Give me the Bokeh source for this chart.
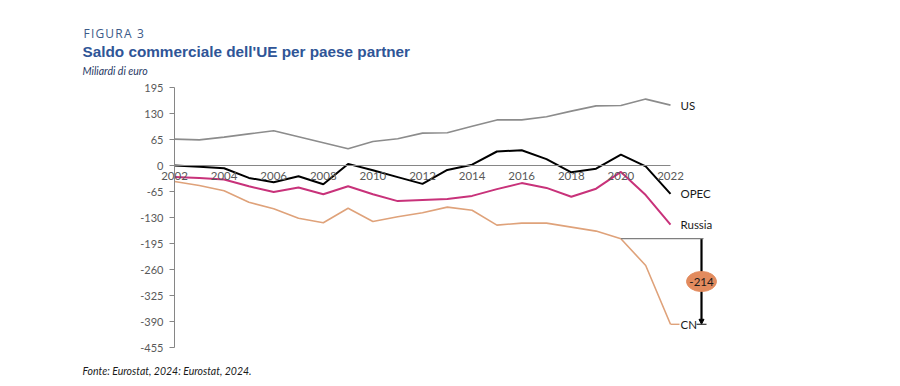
from bokeh.plotting import figure
from bokeh.models import Range1d, LinearAxis, FixedTicker, Arrow, NormalHead
from bokeh.core.properties import value
from bokeh.embed import file_html
from bokeh.resources import INLINE

# ---------------- data ----------------
years = list(range(2002, 2023))
us = [66, 64, 71, 79, 87, 72, 57, 42, 60, 67, 81, 82, 98, 114, 114, 122, 136, 149, 150, 166, 151]
opec = [0, -3, -7, -31, -42, -27, -47, 4, -12, -29, -46, -11, 2, 35, 38, 16, -17, -8, 27, -2, -71]
russia = [-29, -31, -35, -52, -66, -55, -72, -52, -72, -89, -86, -84, -76, -59, -44, -56, -78, -58, -16, -74, -148]
cn = [-40, -50, -63, -92, -108, -132, -143, -107, -140, -128, -118, -104, -112, -149, -144, -144, -154, -164, -183, -250, -397]
series_names = ["US", "OPEC", "Russia", "CN"]
y_ticks = [195, 130, 65, 0, -65, -130, -195, -260, -325, -390, -455]
x_ticks = [2002, 2004, 2006, 2008, 2010, 2012, 2014, 2016, 2018, 2020, 2022]

title_kicker = "F\u200aI\u200aG\u200aU\u200aR\u200aA\u200a \u200a3"
title_main = "Saldo commerciale dell'UE per paese partner"
title_sub = "Miliardi di euro"
footer = "Fonte: Eurostat, 2024: Eurostat, 2024."

# ---------------- layout ----------------
W, H = 884, 378
FX0, FY0 = 174, 87          # canvas px where (2002, 195) sits
PXY = 24.8                  # px per year
PXV = 0.4                   # px per unit
x0, y_top = years[0], y_ticks[0]

x_start = x0 - FX0 / PXY
x_end = x0 + (W - FX0) / PXY
y_end = y_top + FY0 / PXV
y_start = y_top - (H - FY0) / PXV


def dx(px):
    return x0 + (px - FX0) / PXY


def dy(py):
    return y_top - (py - FY0) / PXV


p = figure(width=W, height=H, x_range=Range1d(x_start, x_end),
           y_range=Range1d(y_start, y_end), output_backend="svg",
           toolbar_location=None, min_border=0, x_axis_type=None,
           y_axis_type=None, outline_line_color=None,
           background_fill_color="white", border_fill_color="white")

# axes
yaxis = LinearAxis(fixed_location=years[0], bounds=(y_ticks[-1], y_ticks[0]),
                   ticker=FixedTicker(ticks=y_ticks))
yaxis.axis_line_color = "#868686"
yaxis.major_tick_line_color = "#868686"
yaxis.major_tick_out = 5
yaxis.major_tick_in = 0
yaxis.minor_tick_line_color = None
yaxis.major_label_standoff = 6
yaxis.major_label_text_font = "Lato"
yaxis.major_label_text_font_size = "11px"
yaxis.major_label_text_color = "#595959"
yaxis.major_label_overrides = {t: str(t) for t in y_ticks}
p.add_layout(yaxis, "left")

xaxis = LinearAxis(fixed_location=0, bounds=(years[0], years[-1]),
                   ticker=FixedTicker(ticks=x_ticks))
xaxis.axis_line_color = "#868686"
xaxis.major_tick_line_color = None
xaxis.major_tick_out = 0
xaxis.major_tick_in = 0
xaxis.minor_tick_line_color = None
xaxis.major_label_standoff = 6
xaxis.major_label_text_font = "Lato"
xaxis.major_label_text_font_size = "11.5px"
xaxis.major_label_text_color = "#595959"
p.add_layout(xaxis, "below")

# lines
colors = ["#8C8C8C", "#000000", "#C8327A", "#DFA27A"]
widths = [1.6, 2.0, 2.0, 1.6]
for vals, c, w in zip([us, opec, russia, cn], colors, widths):
    p.line(years, vals, line_color=c, line_width=w)

# series labels
lab_dx = 10 / PXY
last_vals = [us[-1], opec[-1], russia[-1], cn[-1]]
p.text(x=[years[-1] + lab_dx] * 4, y=last_vals, text=series_names,
       text_font=value("Lato"), text_font_size="11.5px",
       text_baseline="middle", text_align="left", text_color="#1a1a1a")
# CN leader line
p.line([years[-1], years[-1] + 9 / PXY], [cn[-1], cn[-1]], line_color=colors[3], line_width=1.4)

# annotation: change 2020 -> 2022
start_v, end_v = cn[-3], cn[-1]
diff = end_v - start_v
ax = years[-1] + 31 / PXY
p.line([years[-3], years[-1] + 33 / PXY], [start_v, start_v], line_color="#7F7F7F", line_width=1.2)
p.add_layout(Arrow(x_start=ax, y_start=start_v, x_end=ax, y_end=end_v,
                   line_color="black", line_width=2.2, level="underlay",
                   end=NormalHead(size=5, fill_color="black", line_color="black")))
p.line([ax - 5 / PXY, ax + 5 / PXY], [end_v, end_v], line_color="#333333", line_width=1.2)
mid = (start_v + end_v) / 2
p.ellipse(x=[ax], y=[mid], width=30 / PXY, height=20 / PXV,
          fill_color="#E28B5E", line_color="#E28B5E")
p.text(x=[ax], y=[mid], text=[str(diff)], text_font=value("Lato"),
       text_font_size="11.5px", text_align="center", text_baseline="middle",
       text_color="#1a1a1a")

# titles & footer
p.text(x=[dx(83)], y=[dy(33)], text=[title_kicker], text_font=value("Open Sans"),
       text_font_size="12px", text_baseline="middle", text_align="left",
       text_color="#3C5A88")
p.text(x=[dx(82)], y=[dy(51)], text=[title_main], text_font=value("Liberation Sans"),
       text_font_size="15.3px", text_font_style="bold", text_baseline="middle",
       text_align="left", text_color="#2F5597")
p.text(x=[dx(82)], y=[dy(70)], text=[title_sub], text_font=value("Lato"),
       text_font_size="10.5px", text_font_style="italic", text_baseline="middle",
       text_align="left", text_color="#1F3864")
p.text(x=[dx(82)], y=[dy(370)], text=[footer], text_font=value("Lato"),
       text_font_size="10.5px", text_font_style="italic", text_baseline="middle",
       text_align="left", text_color="#1a1a1a")

open("out.html", "w").write(file_html(p, INLINE))
